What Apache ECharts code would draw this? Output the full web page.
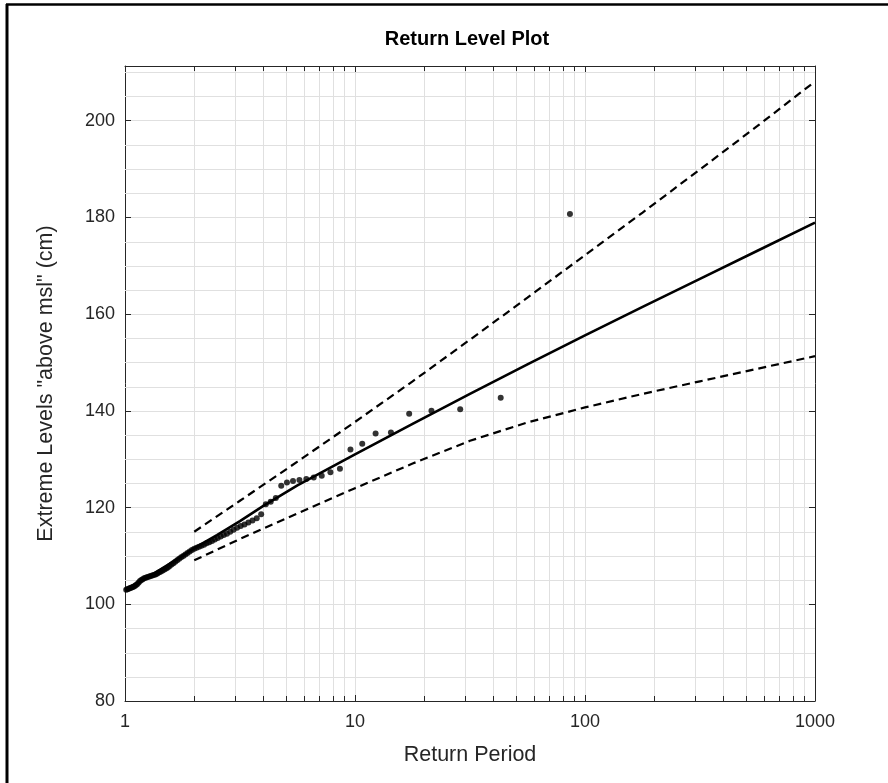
<!DOCTYPE html>
<html>
<head>
<meta charset="utf-8">
<script src="https://cdn.jsdelivr.net/npm/echarts@6/dist/echarts.min.js"></script>
<style>
html,body{margin:0;padding:0;background:#fff;}
#chart{width:888px;height:783px;}
</style>
</head>
<body>
<div id="chart"></div>
<script>
// ---- data ----
const dotPeriod = [86, 43, 28.67, 21.5, 17.2, 14.33, 12.29, 10.75, 9.556, 8.6,
  7.818, 7.167, 6.615, 6.143, 5.733, 5.375, 5.059, 4.778, 4.526, 4.3,
  4.095, 3.909, 3.739, 3.583, 3.44, 3.308, 3.185, 3.071, 2.966, 2.867,
  2.774, 2.688, 2.606, 2.529, 2.457, 2.389, 2.324, 2.263, 2.205, 2.15,
  2.098, 2.048, 2.0, 1.955, 1.911, 1.87, 1.83, 1.792, 1.755, 1.72,
  1.686, 1.654, 1.623, 1.593, 1.564, 1.536, 1.509, 1.483, 1.458, 1.433,
  1.41, 1.387, 1.365, 1.344, 1.323, 1.303, 1.284, 1.265, 1.246, 1.229,
  1.211, 1.194, 1.178, 1.162, 1.147, 1.132, 1.117, 1.103, 1.089, 1.075,
  1.062, 1.049, 1.036, 1.024, 1.012];
const dotLevel = [180.7, 142.7, 140.3, 140.0, 139.4, 135.5, 135.3, 133.2, 132.0, 128.0,
  127.3, 126.6, 126.2, 125.9, 125.7, 125.5, 125.2, 124.5, 122.0, 121.2,
  120.7, 118.6, 117.8, 117.3, 116.9, 116.5, 116.2, 115.8, 115.4, 115.0,
  114.6, 114.3, 114.0, 113.7, 113.4, 113.1, 112.8, 112.6, 112.3, 112.1,
  111.9, 111.7, 111.5, 111.2, 110.9, 110.6, 110.3, 110.0, 109.7, 109.4,
  109.1, 108.8, 108.5, 108.2, 107.9, 107.6, 107.4, 107.2, 107.0, 106.8,
  106.6, 106.4, 106.2, 106.1, 106.0, 105.9, 105.8, 105.7, 105.6, 105.5,
  105.4, 105.2, 105.0, 104.8, 104.5, 104.2, 104.0, 103.8, 103.6, 103.5,
  103.4, 103.3, 103.2, 103.1, 103.0];

const fitPeriod = [1, 1.26, 1.58, 2, 2.51, 3.16, 3.98, 5.62, 10, 17.8, 31.6, 56.2, 100, 178, 316, 562, 1000];
const fitLevel  = [103.0, 105.6, 108.5, 111.6, 114.3, 117.2, 120.3, 124.6, 131.0, 137.3, 143.5, 149.6, 155.6, 161.5, 167.3, 173.1, 178.9];

const ciPeriod = [2, 3.16, 5.62, 10, 17.8, 31.6, 56.2, 100, 178, 316, 562, 1000];
const ciUpper  = [115.0, 121.4, 129.5, 137.7, 146.1, 154.7, 163.4, 172.2, 181.0, 189.9, 198.9, 208.1];
const ciLower  = [109.1, 113.5, 118.8, 124.0, 129.1, 133.8, 137.6, 140.7, 143.5, 146.1, 148.7, 151.3];

const xMajorLabels = [1, 10, 100, 1000];
const xMinorTicks = [2,3,4,5,6,7,8,9,20,30,40,50,60,70,80,90,200,300,400,500,600,700,800,900];
const yMinorTicks = [85,90,95,105,110,115,125,130,135,145,150,155,165,170,175,185,190,195,205,210];

const X_MIN = 1, X_MAX = 1000, Y_MIN = 80, Y_MAX = 211.3;

const pair = (xs, ys) => xs.map((x, i) => [x, ys[i]]);

const AXIS_COLOR = '#262626';
const GRID_COLOR = '#e0e0e0';
const FONT = 'Liberation Sans, Arial, Helvetica, sans-serif';

const chart = echarts.init(document.getElementById('chart'));

const option = {
  backgroundColor: '#fff',
  animation: false,
  title: {
    text: 'Return Level Plot',
    left: 462, top: 24, textAlign: 'center',
    textStyle: { fontFamily: FONT, fontSize: 20, fontWeight: 'bold', color: '#000' }
  },
  graphic: [
    { type: 'line', shape: { x1: 7, y1: 4, x2: 7, y2: 783 }, style: { stroke: '#000', lineWidth: 3 } },
    { type: 'line', shape: { x1: 6, y1: 4.5, x2: 888, y2: 4.5 }, style: { stroke: '#000', lineWidth: 2.5 } }
  ],
  grid: { left: 125, top: 66, width: 690, height: 635, containLabel: false },
  xAxis: [{
    type: 'log', logBase: 10, min: X_MIN, max: X_MAX, position: 'bottom',
    name: 'Return Period', nameLocation: 'middle', nameGap: 43,
    nameTextStyle: { fontFamily: FONT, fontSize: 21.5, color: AXIS_COLOR },
    axisLine: { show: true, onZero: false, lineStyle: { color: AXIS_COLOR, width: 1 } },
    axisTick: { show: true, inside: true, length: 6, lineStyle: { color: AXIS_COLOR } },
    axisLabel: { margin: 12, fontFamily: FONT, fontSize: 18, color: AXIS_COLOR,
      formatter: v => { const r = Math.round(v); return xMajorLabels.indexOf(r) >= 0 ? String(r) : ''; } },
    splitLine: { show: true, lineStyle: { color: GRID_COLOR, width: 1 } }
  }, {
    type: 'log', logBase: 10, min: X_MIN, max: X_MAX, position: 'top',
    axisLine: { show: true, onZero: false, lineStyle: { color: AXIS_COLOR, width: 1 } },
    axisTick: { show: true, inside: true, length: 6, lineStyle: { color: AXIS_COLOR } },
    axisLabel: { show: false }, splitLine: { show: false }
  }],
  yAxis: [{
    type: 'value', min: Y_MIN, max: Y_MAX, interval: 20, position: 'left',
    name: 'Extreme Levels "above msl" (cm)', nameLocation: 'middle', nameGap: 68,
    nameTextStyle: { fontFamily: FONT, fontSize: 21.5, color: AXIS_COLOR },
    axisLine: { show: true, onZero: false, lineStyle: { color: AXIS_COLOR, width: 1 } },
    axisTick: { show: true, inside: true, length: 6, lineStyle: { color: AXIS_COLOR } },
    axisLabel: { margin: 10, fontFamily: FONT, fontSize: 18, color: AXIS_COLOR,
      formatter: v => (Math.abs(v % 20) < 1e-6 ? String(v) : '') },
    splitLine: { show: true, lineStyle: { color: GRID_COLOR, width: 1 } }
  }, {
    type: 'value', min: Y_MIN, max: Y_MAX, interval: 20, position: 'right',
    axisLine: { show: true, onZero: false, lineStyle: { color: AXIS_COLOR, width: 1 } },
    axisTick: { show: true, inside: true, length: 6, lineStyle: { color: AXIS_COLOR } },
    axisLabel: { show: false }, splitLine: { show: false }
  }],
  series: [
    {
      type: 'custom', name: 'xminor', xAxisIndex: 0, yAxisIndex: 0, z: 1, silent: true,
      data: xMinorTicks.map(v => [v, Y_MIN]),
      encode: { x: 0, y: 1 },
      renderItem: (params, api) => {
        const v = api.value(0);
        const b = api.coord([v, Y_MIN]);
        const t = api.coord([v, Y_MAX]);
        const x = Math.round(b[0]) + 0.5;
        return { type: 'group', children: [
          { type: 'line', shape: { x1: x, y1: b[1], x2: x, y2: t[1] }, style: { stroke: GRID_COLOR, lineWidth: 1 } },
          { type: 'line', shape: { x1: x, y1: b[1], x2: x, y2: b[1] - 5 }, style: { stroke: AXIS_COLOR, lineWidth: 1 } },
          { type: 'line', shape: { x1: x, y1: t[1], x2: x, y2: t[1] + 5 }, style: { stroke: AXIS_COLOR, lineWidth: 1 } }
        ]};
      }
    },
    {
      type: 'custom', name: 'yminor', xAxisIndex: 0, yAxisIndex: 0, z: 1, silent: true,
      data: yMinorTicks.map(v => [X_MIN, v]),
      encode: { x: 0, y: 1 },
      renderItem: (params, api) => {
        const v = api.value(1);
        const l = api.coord([X_MIN, v]);
        const r = api.coord([X_MAX, v]);
        const y = Math.round(l[1]) + 0.5;
        return { type: 'line', shape: { x1: l[0], y1: y, x2: r[0], y2: y }, style: { stroke: GRID_COLOR, lineWidth: 1 } };
      }
    },
    {
      type: 'line', name: 'Upper', data: pair(ciPeriod, ciUpper), showSymbol: false, smooth: false, z: 3,
      lineStyle: { color: '#000', width: 2.2, type: [8, 5] }
    },
    {
      type: 'line', name: 'Lower', data: pair(ciPeriod, ciLower), showSymbol: false, smooth: false, z: 3,
      lineStyle: { color: '#000', width: 2.2, type: [8, 5] }
    },
    {
      type: 'line', name: 'Fit', data: pair(fitPeriod, fitLevel), showSymbol: false, smooth: false, z: 4,
      lineStyle: { color: '#000', width: 2.6, join: 'round' }
    },
    {
      type: 'scatter', name: 'Data', data: pair(dotPeriod, dotLevel), symbol: 'circle', symbolSize: 6, z: 5,
      itemStyle: { color: '#000' }
    }
  ]
};
chart.setOption(option);
</script>
</body>
</html>
